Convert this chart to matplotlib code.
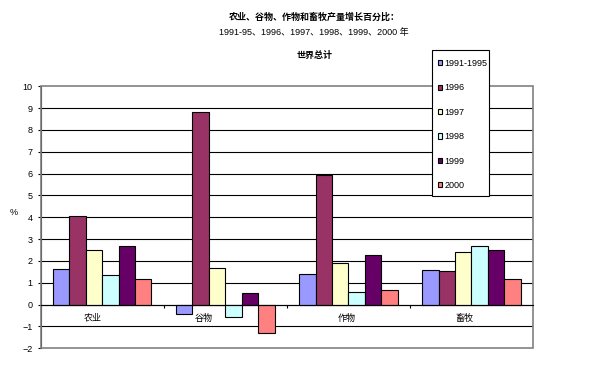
import matplotlib
matplotlib.use('Agg')
import matplotlib.pyplot as plt
import numpy as np
from matplotlib.patches import Rectangle

plt.rcParams['font.family'] = ['Liberation Sans', 'Noto Sans CJK SC', 'DejaVu Sans']

categories = ['农业', '谷物', '作物', '畜牧']
series = ['1991-1995', '1996', '1997', '1998', '1999', '2000']
colors = ['#9999FF', '#993366', '#FFFFCC', '#CCFFFF', '#660066', '#FF8080']
v_1991_95 = [1.64, -0.41, 1.41, 1.59]
v_1996 = [4.06, 8.8, 5.95, 1.55]
v_1997 = [2.5, 1.68, 1.91, 2.41]
v_1998 = [1.36, -0.59, 0.59, 2.68]
v_1999 = [2.68, 0.55, 2.27, 2.51]
v_2000 = [1.18, -1.32, 0.68, 1.18]
values = [v_1991_95, v_1996, v_1997, v_1998, v_1999, v_2000]

# horizontal nudge of the category labels (pixels), as in the original export
label_dx = [-10, -22, -2, -7]

fig = plt.figure(figsize=(5.95, 3.65), dpi=100)
ax = fig.add_axes([0.0684, 0.0458, 0.8274, 0.7178])

x = np.arange(len(categories))
w = 0.8 / len(series)
handles = []
for i, (name, vals) in enumerate(zip(series, values)):
    b = ax.bar(x - 0.4 + w * (i + 0.5), vals, w, color=colors[i],
               edgecolor='black', linewidth=0.8, label=name, zorder=3)
    handles.append(b)

ax.set_xlim(-0.5, len(categories) - 0.5)
ax.set_ylim(-2, 10)
ax.set_yticks(range(-2, 11))
for y in range(-1, 10):
    ax.axhline(y, color='black', lw=0.8, zorder=1)

# plot area border (grey top/right/bottom)
ax.add_patch(Rectangle((0, 0), 1, 1, transform=ax.transAxes, fill=False,
                       edgecolor='#808080', lw=1.2, zorder=4, clip_on=False))
for s in ['top', 'right']:
    ax.spines[s].set_visible(False)
ax.spines['left'].set_linewidth(0.8)
ax.spines['bottom'].set_position(('data', 0))
ax.spines['bottom'].set_linewidth(0.8)
ax.spines['bottom'].set_zorder(5)

ax.set_xticks(np.arange(0.5, len(categories) - 0.5))
ax.set_xticklabels([])
ax.tick_params(axis='x', which='major', length=2.5, width=0.8)
ax.tick_params(axis='y', length=2, width=0.8, labelsize=6.5, pad=4)

for xi, cat, dx in zip(x, categories, label_dx):
    ax.annotate(cat, (xi, 0), xytext=(dx * 0.72, -9.9), textcoords='offset points',
                ha='center', va='center', fontsize=6.5, zorder=7)

ax.text(-0.054, 0.52, '%', transform=ax.transAxes, fontsize=6.5,
        ha='center', va='center')

fig.text(0.528, 0.953, '农业、谷物、作物和畜牧产量增长百分比：', ha='center',
         va='center', fontsize=6.5, fontweight='bold')
fig.text(0.528, 0.912, '1991-95、1996、1997、1998、1999、2000 年', ha='center',
         va='center', fontsize=6.5)
fig.text(0.528, 0.849, '世界总计', ha='center', va='center', fontsize=6.5,
         fontweight='bold')

# legend box
ax.add_patch(Rectangle((0.7261, 0.463), 0.0958, 0.4, transform=fig.transFigure,
                       facecolor='white', edgecolor='black', lw=0.8, zorder=5,
                       clip_on=False))
leg = ax.legend(handles=handles, loc='upper left', bbox_to_anchor=(0.7361, 0.838),
                bbox_transform=fig.transFigure, borderaxespad=0, borderpad=0,
                fontsize=6.5, frameon=False,
                handlelength=0.5, handleheight=0.5, handletextpad=0.2,
                labelspacing=1.7)
leg.set_zorder(6)

fig.savefig('out.png', dpi=100)
